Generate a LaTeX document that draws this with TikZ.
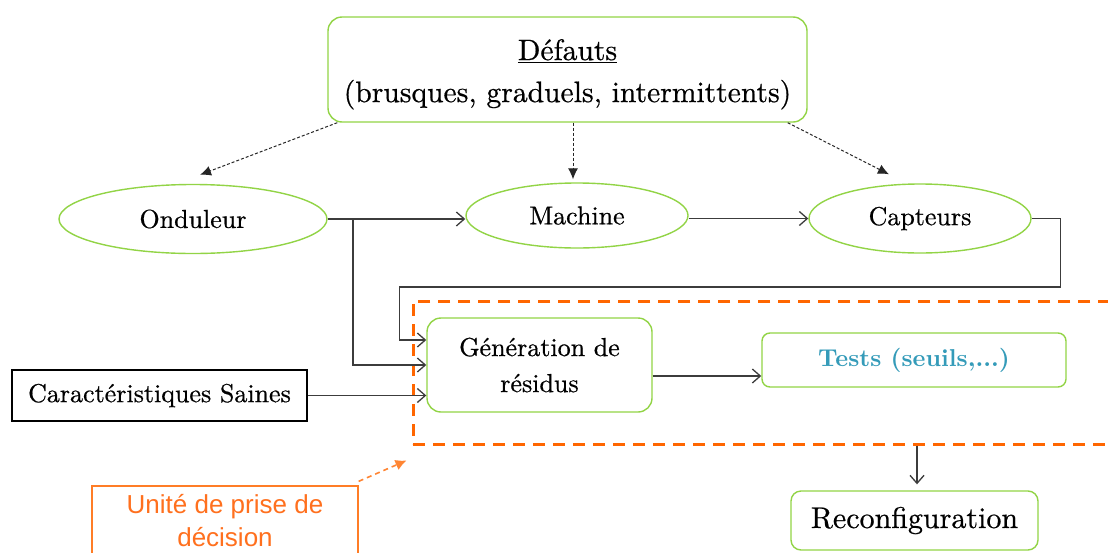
\documentclass[tikz,border=0pt]{standalone}
\usepackage{fontspec}
\setmainfont{lmroman10-regular.otf}[BoldFont=lmroman10-bold.otf, UprightFeatures={FakeBold=0.6}]
\newfontfamily\arialfont{Liberation Sans}
\usetikzlibrary{shapes.geometric,arrows.meta}
\definecolor{lgreen}{RGB}{146,212,70}
\definecolor{orng}{RGB}{255,102,0}
\definecolor{orngtxt}{RGB}{255,112,30}
\definecolor{teal}{RGB}{52,155,185}
\definecolor{conn}{RGB}{60,60,60}
\tikzset{
  gbox/.style={draw=lgreen, line width=1.4pt, rounded corners=#1, align=center, inner sep=0pt},
  gell/.style={ellipse, draw=lgreen, line width=1.4pt, inner sep=0pt},
  bodyfont/.style={font=\fontsize{26}{36}\selectfont},
  arr/.style={draw=conn, line width=1.3pt, -{Straight Barb[length=8pt,width=14pt,line width=1.3pt]}},
  dasharr/.style={draw=black!85, line width=1pt, dash pattern=on 3pt off 2pt, -{Latex[length=11pt,width=10pt]}},
  orarr/.style={draw=orng!80, line width=1.6pt, dash pattern=on 5pt off 4pt, -{Latex[length=11pt,width=11pt]}},
}
\begin{document}
\begin{tikzpicture}[x=1pt,y=-1pt]
\useasboundingbox (0,0) rectangle (1108,552);
\clip (0,0) rectangle (1108,552);
\fill[white] (0,0) rectangle (1108,552);

% nodes
\node[gbox=14pt, minimum width=479pt, minimum height=105pt, font=\fontsize{29.6}{42}\selectfont] (def) at (567.5,69.5)
  {\rule{0pt}{30.5pt}\underline{Défauts}\\(brusques, graduels, intermittents)};
\node[gell, bodyfont, minimum width=268pt, minimum height=69pt] (ond) at (193,219) {Onduleur};
\node[gell, bodyfont, minimum width=222pt, minimum height=65pt] (mac) at (577,215.5) {Machine};
\node[gell, bodyfont, minimum width=222pt, minimum height=69pt] (cap) at (920,218.5) {Capteurs};
\node[gbox=14pt, bodyfont, minimum width=225pt, minimum height=94pt] (gen) at (539.5,365) {Génération de\\résidus};
\node[gbox=8pt, font=\fontsize{24.4}{28}\selectfont\bfseries, text=teal, minimum width=304pt, minimum height=54pt] (tests) at (914,360) {Tests (seuils,...)};
\node[draw=black, line width=1.2pt, bodyfont, minimum width=295pt, minimum height=51pt, inner sep=0pt] (carac) at (159.5,395.5) {Caractéristiques Saines};
\node[gbox=10pt, font=\fontsize{30}{36}\selectfont, minimum width=247pt, minimum height=59pt] (reconf) at (914.5,520.5) {Reconfiguration};
\node[draw=orng, line width=3pt, dash pattern=on 12pt off 8pt, minimum width=707pt, minimum height=143pt, inner sep=0pt] (zone) at (766.5,372.5) {};
\node[draw=orng!85, line width=1.3pt, minimum width=266pt, minimum height=70pt, inner sep=0pt, align=center,
      font=\arialfont\fontsize{26}{33}\selectfont, text=orngtxt] (unite) at (225,521) {Unité de prise de\\décision};

% connectors
\draw[dasharr] ([xshift=10pt]def.south west) -- ([xshift=7pt,yshift=9pt]ond.north);
\draw[dasharr] ([xshift=5.5pt]def.south) -- ([xshift=-4pt,yshift=3pt]mac.north);
\draw[dasharr] ([xshift=-20pt]def.south east) -- ([xshift=-31pt,yshift=9pt]cap.north);

\draw[arr] (ond.east) -- (ond.east -| mac.west);
\draw[arr] (mac.east |- cap.west) -- (cap.west);
\coordinate (br) at (353,219);
\draw[arr] (br) |- (gen.west);
\draw[arr] (cap.east) -- ++(29,0) -- ++(0,68.5) -| ([xshift=-27pt,yshift=25pt]gen.west) -- ([yshift=25pt]gen.west);
\draw[arr] (carac.east) -- (carac.east -| gen.west);
\draw[arr] ([yshift=-11pt]gen.east) -- ([yshift=-11pt]gen.east -| tests.west);
\draw[arr] ([xshift=2.5pt]reconf.north |- zone.south) -- ([xshift=2.5pt,yshift=6pt]reconf.north);
\draw[orarr] ([yshift=4pt]unite.north east) -- ([xshift=-5pt,yshift=-15pt]zone.south west);
\end{tikzpicture}
\end{document}
